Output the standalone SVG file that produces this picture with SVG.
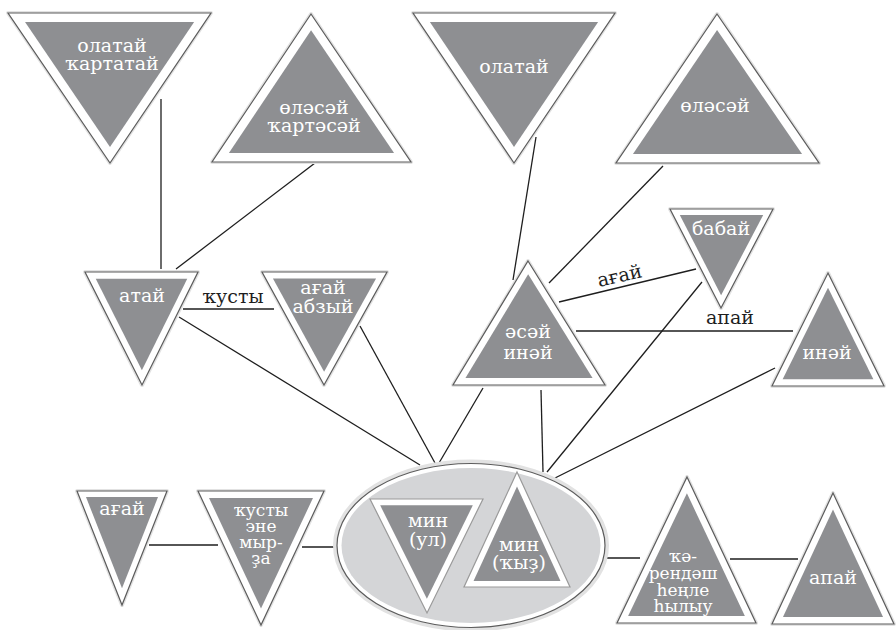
<svg xmlns="http://www.w3.org/2000/svg" width="896" height="630" viewBox="0 0 896 630">
<style>
.h{fill:none;stroke:#e2e2e2;stroke-width:4;stroke-linejoin:round}
.o{fill:#fff;stroke:#5c5c5c;stroke-width:1.2;stroke-linejoin:miter}
.i{fill:#8e8f92}
.t{font-family:"DejaVu Serif","Liberation Serif",serif;font-size:19px;fill:#fff;text-anchor:middle}
.s{font-size:17px}
.l{font-family:"DejaVu Serif","Liberation Serif",serif;font-size:19px;fill:#1e1e1e;text-anchor:middle}
.c line{stroke:#1e1e1e;stroke-width:1.3}
</style>
<rect width="896" height="630" fill="#fff"/>
<g class="c" id="connectors">
<line x1="161" y1="99" x2="161" y2="269"/>
<line x1="315" y1="163" x2="176" y2="269"/>
<line x1="183" y1="309" x2="274" y2="309"/>
<line x1="179" y1="317" x2="420" y2="465"/>
<line x1="360" y1="326" x2="435" y2="463"/>
<line x1="536" y1="137" x2="513" y2="280"/>
<line x1="663" y1="166" x2="549" y2="283"/>
<line x1="559" y1="302" x2="696" y2="269"/>
<line x1="576" y1="331" x2="793" y2="331"/>
<line x1="483" y1="388" x2="439" y2="463"/>
<line x1="541" y1="390" x2="543" y2="472"/>
<line x1="702" y1="282" x2="547" y2="472"/>
<line x1="775" y1="368" x2="555" y2="478"/>
<line x1="149" y1="545" x2="218" y2="545"/>
<line x1="302" y1="547" x2="337" y2="547"/>
<line x1="605" y1="558" x2="640" y2="558"/>
<line x1="730" y1="559" x2="798" y2="559"/>
<text class="l" x="233" y="303">ҡусты</text>
<text class="l" x="621" y="282" transform="rotate(-13 621 282)">ағай</text>
<text class="l" x="730" y="324">апай</text>
</g>
<g id="n-olatay-kartatay">
<polygon class="h" points="8,13 211,13 110,163"/>
<polygon class="o" points="8,13 211,13 110,163"/>
<polygon class="i" points="8,13 211,13 110,163" transform="translate(110 66.9) scale(0.833) translate(-110 -66.9)"/>
<text class="t" x="112" y="52">олатай</text>
<text class="t" x="112" y="70">ҡартатай</text>
</g>
<g id="n-olesey-kartesey">
<polygon class="h" points="311,14 411,162 212,162"/>
<polygon class="o" points="311,14 411,162 212,162"/>
<polygon class="i" points="311,14 411,162 212,162" transform="translate(311.5 109) scale(0.83) translate(-311.5 -109)"/>
<text class="t" x="314" y="114">өләсәй</text>
<text class="t" x="314" y="132">ҡартәсәй</text>
</g>
<g id="n-olatay">
<polygon class="h" points="413,13 615,13 514,163"/>
<polygon class="o" points="413,13 615,13 514,163"/>
<polygon class="i" points="413,13 615,13 514,163" transform="translate(514 66.8) scale(0.833) translate(-514 -66.8)"/>
<text class="t" x="514" y="73">олатай</text>
</g>
<g id="n-olesey">
<polygon class="h" points="717,14 819,163 616,163"/>
<polygon class="o" points="717,14 819,163 616,163"/>
<polygon class="i" points="717,14 819,163 616,163" transform="translate(717.5 109.3) scale(0.833) translate(-717.5 -109.3)"/>
<text class="t" x="715" y="112">өләсәй</text>
</g>
<g id="n-atay">
<polygon class="h" points="85,272 198,272 142,385"/>
<polygon class="o" points="85,272 198,272 142,385"/>
<polygon class="i" points="85,272 198,272 142,385" transform="translate(141.5 306.9) scale(0.81) translate(-141.5 -306.9)"/>
<text class="t" x="142" y="302">атай</text>
</g>
<g id="n-agay-abzyy">
<polygon class="h" points="262,272 387,272 324,385"/>
<polygon class="o" points="262,272 387,272 324,385"/>
<polygon class="i" points="262,272 387,272 324,385" transform="translate(324.5 308.9) scale(0.825) translate(-324.5 -308.9)"/>
<text class="t" x="323" y="294">ағай</text>
<text class="t" x="323" y="313">абзый</text>
</g>
<g id="n-esey-iney">
<polygon class="h" points="528,261 605,385 453,385"/>
<polygon class="o" points="528,261 605,385 453,385"/>
<polygon class="i" points="528,261 605,385 453,385" transform="translate(529 342.4) scale(0.836) translate(-529 -342.4)"/>
<text class="t" x="528" y="338">әсәй</text>
<text class="t" x="528" y="359">инәй</text>
</g>
<g id="n-babay">
<polygon class="h" points="670,209 773,209 721,308"/>
<polygon class="o" points="670,209 773,209 721,308"/>
<polygon class="i" points="670,209 773,209 721,308" transform="translate(721.5 240.3) scale(0.81) translate(-721.5 -240.3)"/>
<text class="t" x="721" y="235">бабай</text>
</g>
<g id="n-iney">
<polygon class="h" points="828,273 884,386 772,386"/>
<polygon class="o" points="828,273 884,386 772,386"/>
<polygon class="i" points="828,273 884,386 772,386" transform="translate(828 351.1) scale(0.81) translate(-828 -351.1)"/>
<text class="t" x="827" y="359">инәй</text>
</g>
<g id="n-agay-bottom">
<polygon class="h" points="77,491 167,491 122,605"/>
<polygon class="o" points="77,491 167,491 122,605"/>
<polygon class="i" points="77,491 167,491 122,605" transform="translate(122 521.6) scale(0.80) translate(-122 -521.6)"/>
<text class="t" x="122" y="515">ағай</text>
</g>
<g id="n-kusty-ene-myrza">
<polygon class="h" points="198,491 324,491 261,625"/>
<polygon class="o" points="198,491 324,491 261,625"/>
<polygon class="i" points="198,491 324,491 261,625" transform="translate(261 531) scale(0.825) translate(-261 -531)"/>
<text class="t s" x="261" y="516">ҡусты</text>
<text class="t s" x="261" y="532">эне</text>
<text class="t s" x="261" y="548">мыр-</text>
<text class="t s" x="261" y="564">ҙа</text>
</g>
<g id="n-min">
<ellipse cx="471" cy="545.5" rx="136" ry="84" fill="none" stroke="#e2e2e2" stroke-width="4"/>
<ellipse cx="471" cy="545.5" rx="134" ry="82" fill="#fff" stroke="#5c5c5c" stroke-width="1.2"/>
<ellipse cx="471" cy="545.5" rx="129.5" ry="77.5" fill="#d4d5d7"/>
<g id="n-min-ul">
<polygon class="o" points="370,499 483,499 427,613" style="stroke:#9a9a9a"/>
<polygon class="i" points="370,499 483,499 427,613" transform="translate(426.5 534) scale(0.82) translate(-426.5 -534)"/>
<text class="t" x="428" y="527">мин</text>
<text class="t" x="428" y="546">(ул)</text>
</g>
<g id="n-min-kyz">
<polygon class="o" points="517,472 570,587 464,587" style="stroke:#9a9a9a"/>
<polygon class="i" points="517,472 570,587 464,587" transform="translate(517 553.1) scale(0.82) translate(-517 -553.1)"/>
<text class="t" x="519" y="551">мин</text>
<text class="t" x="519" y="569">(ҡыҙ)</text>
</g>
</g>
<g id="n-kerendesh">
<polygon class="h" points="687,477 756,623 617,623"/>
<polygon class="o" points="687,477 756,623 617,623"/>
<polygon class="i" points="687,477 756,623 617,623" transform="translate(686.5 579.1) scale(0.84) translate(-686.5 -579.1)"/>
<text class="t s" x="683" y="562">ҡә-</text>
<text class="t s" x="683" y="579">рендәш</text>
<text class="t s" x="683" y="596">һеңле</text>
<text class="t s" x="683" y="612">һылыу</text>
</g>
<g id="n-apay">
<polygon class="h" points="833,493 894,624 772,624"/>
<polygon class="o" points="833,493 894,624 772,624"/>
<polygon class="i" points="833,493 894,624 772,624" transform="translate(833 585.1) scale(0.82) translate(-833 -585.1)"/>
<text class="t" x="833" y="584">апай</text>
</g>
</svg>
